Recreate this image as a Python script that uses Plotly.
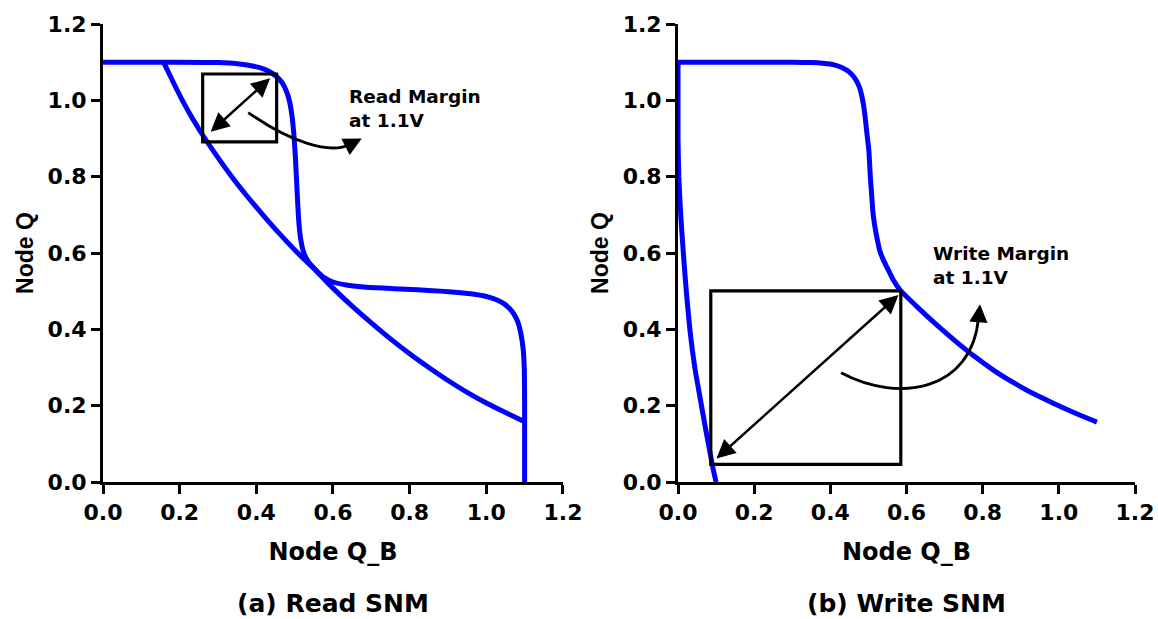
import plotly.graph_objects as go

# Read SNM: inverter transfer curve with the access transistor on (Q vs Q_B)
read_qb = [0.0, 0.10, 0.20, 0.30, 0.35, 0.39, 0.42, 0.44, 0.455, 0.468, 0.478,
           0.486, 0.493, 0.498, 0.502, 0.505, 0.508, 0.511, 0.516, 0.524, 0.537,
           0.555, 0.60, 0.65, 0.70, 0.75, 0.80, 0.85, 0.90, 0.95, 1.00, 1.05, 1.10]
read_q = [1.10, 1.10, 1.10, 1.099, 1.096, 1.09, 1.082, 1.072, 1.06, 1.045, 1.025,
          1.0, 0.96, 0.91, 0.85, 0.79, 0.73, 0.68, 0.635, 0.60, 0.575,
          0.555, 0.508, 0.461, 0.417, 0.375, 0.336, 0.30, 0.266, 0.235, 0.207, 0.182, 0.158]

# Write SNM: held-side inverter curve
write_qb = [0.0, 0.10, 0.20, 0.30, 0.35, 0.38, 0.41, 0.43, 0.45, 0.465, 0.476,
            0.484, 0.49, 0.496, 0.501, 0.505, 0.509, 0.512, 0.516, 0.52, 0.525,
            0.53, 0.54, 0.55, 0.565, 0.583, 0.63, 0.68, 0.73, 0.78, 0.83, 0.88,
            0.93, 0.98, 1.03, 1.08, 1.10]
write_q = [1.10, 1.10, 1.10, 1.10, 1.099, 1.097, 1.093, 1.086, 1.074, 1.057, 1.035,
           1.005, 0.968, 0.913, 0.87, 0.80, 0.745, 0.705, 0.675, 0.652, 0.627,
           0.605, 0.58, 0.56, 0.53, 0.503, 0.457, 0.411, 0.368, 0.328, 0.292, 0.261,
           0.233, 0.209, 0.186, 0.165, 0.157]

# Write SNM: curve of the inverter being written
write_drv_qb = [0.0, 0.0, 0.002, 0.006, 0.0097, 0.02, 0.031, 0.044, 0.058, 0.075, 0.093, 0.10]
write_drv_q = [1.10, 0.90, 0.80, 0.72, 0.66, 0.52, 0.40, 0.30, 0.22, 0.125, 0.03, 0.0]

tick_vals = [0.0, 0.2, 0.4, 0.6, 0.8, 1.0, 1.2]

# Margin squares (x0, x1, y0, y1) and diagonals (x_tip1, y_tip1, x_tip2, y_tip2)
read_box = [0.26, 0.453, 0.891, 1.069]
read_diag = [0.436, 1.058, 0.277, 0.914]
write_box = [0.086, 0.585, 0.046, 0.501]
write_diag = [0.579, 0.490, 0.097, 0.058]

BLUE = "#0000FF"
WIDE = "DejaVu Sans, Verdana, sans-serif"
NARROW = "Liberation Sans, Arial, sans-serif"

fig = go.Figure()

line = dict(color=BLUE, width=5, shape="spline", smoothing=0.5)
fig.add_trace(go.Scatter(x=read_qb, y=read_q, mode="lines", line=line,
                         xaxis="x", yaxis="y", showlegend=False))
fig.add_trace(go.Scatter(x=read_q, y=read_qb, mode="lines", line=line,
                         xaxis="x", yaxis="y", showlegend=False))
fig.add_trace(go.Scatter(x=write_qb, y=write_q, mode="lines", line=line,
                         xaxis="x2", yaxis="y2", showlegend=False))
fig.add_trace(go.Scatter(x=write_drv_qb, y=write_drv_q, mode="lines", line=line,
                         xaxis="x2", yaxis="y2", showlegend=False))

axis_common = dict(
    range=[0, 1.2], tickvals=tick_vals, tickformat=".1f", automargin=False,
    showline=True, linewidth=3, linecolor="black",
    ticks="outside", ticklen=9, tickwidth=3, tickcolor="black",
    showgrid=False, zeroline=False,
    tickfont=dict(family=WIDE, size=22, color="black", weight="bold"),
)
xtitle_font = dict(family=WIDE, size=24, color="black", weight="bold")
ytitle_font = dict(family=NARROW, size=23, color="black", weight="bold")

fig.update_layout(
    width=1158, height=619,
    margin=dict(l=103, r=23, t=24, b=137),
    paper_bgcolor="white", plot_bgcolor="white",
    font=dict(family=WIDE, color="black"),
    xaxis=dict(domain=[0, 0.4457], anchor="y",
               title=dict(text="Node Q_B", font=xtitle_font, standoff=19), **axis_common),
    yaxis=dict(domain=[0, 1], anchor="x",
               title=dict(text="Node Q", font=ytitle_font, standoff=8), **axis_common),
    xaxis2=dict(domain=[0.5572, 1], anchor="y2",
                title=dict(text="Node Q_B", font=xtitle_font, standoff=19), **axis_common),
    yaxis2=dict(domain=[0, 1], anchor="x2",
                title=dict(text="Node Q", font=ytitle_font, standoff=8), **axis_common),
)

shapes = []
for (bx0, bx1, by0, by1), xr, yr in [(read_box, "x", "y"), (write_box, "x2", "y2")]:
    shapes.append(dict(type="rect", xref=xr, yref=yr, x0=bx0, x1=bx1, y0=by0, y1=by1,
                       line=dict(color="black", width=3.2)))

# Curved pointer arrows from the squares to the labels
shapes.append(dict(type="path", xref="x", yref="y",
                   path="M 0.379,0.968 C 0.488,0.891 0.592,0.857 0.645,0.885",
                   line=dict(color="black", width=2.8)))
shapes.append(dict(type="path", xref="x2", yref="y2",
                   path="M 0.428,0.286 C 0.583,0.204 0.772,0.241 0.789,0.430",
                   line=dict(color="black", width=2.8)))
fig.update_layout(shapes=shapes)

ann = []
for (x1, y1, x2, y2), xr, yr in [(read_diag, "x", "y"), (write_diag, "x2", "y2")]:
    ann.append(dict(x=x1, y=y1, ax=x2, ay=y2, xref=xr, yref=yr, axref=xr, ayref=yr,
                    text="", showarrow=True, arrowside="end+start",
                    arrowhead=2, startarrowhead=2, arrowsize=1.5, startarrowsize=1.5,
                    arrowwidth=2.5, arrowcolor="black", standoff=0, startstandoff=0))

# Arrow heads at the ends of the curved pointers
ann.append(dict(x=0.675, y=0.900, ax=0.640, ay=0.882, xref="x", yref="y", axref="x", ayref="y",
                text="", showarrow=True, arrowhead=2, arrowsize=1.3, arrowwidth=2.8,
                arrowcolor="black", standoff=0))
ann.append(dict(x=0.793, y=0.466, ax=0.789, ay=0.420, xref="x2", yref="y2", axref="x2", ayref="y2",
                text="", showarrow=True, arrowhead=2, arrowsize=1.3, arrowwidth=2.8,
                arrowcolor="black", standoff=0))

label_font = dict(family=WIDE, size=18.5, color="black", weight="bold")
ann.append(dict(x=0.636, y=0.978, xref="x", yref="y", text="Read Margin<br>at 1.1V",
                showarrow=False, xanchor="left", yanchor="middle", align="left", font=label_font))
ann.append(dict(x=0.664, y=0.568, xref="x2", yref="y2", text="Write Margin<br>at 1.1V",
                showarrow=False, xanchor="left", yanchor="middle", align="left", font=label_font))

cap_font = dict(family=WIDE, size=25, color="black", weight="bold")
ann.append(dict(x=0.2228, y=-0.265, xref="paper", yref="paper", text="(a) Read SNM",
                showarrow=False, xanchor="center", yanchor="middle", font=cap_font))
ann.append(dict(x=0.7786, y=-0.265, xref="paper", yref="paper", text="(b) Write SNM",
                showarrow=False, xanchor="center", yanchor="middle", font=cap_font))
fig.update_layout(annotations=ann)

fig.write_html("out.html")
